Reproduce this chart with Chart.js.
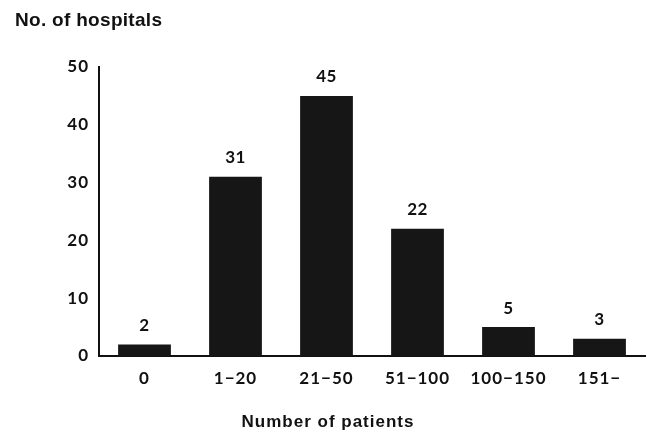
<!DOCTYPE html>
<html lang="en">
<head>
  <meta charset="UTF-8" />
  <title>No. of hospitals by number of patients</title>
  <style>
    * { box-sizing: border-box; margin: 0; padding: 0; }
    body { background: #ffffff; }
    .wrap { width: 652px; height: 434px; }
  </style>
</head>
<body>
  <div class="wrap">
    <canvas id="patientsChart" width="652" height="434"></canvas>
  </div>

  <script src="https://cdn.jsdelivr.net/npm/chart.js"></script>
  <script>
    const categories = ['0', '1\u221220', '21\u221250', '51\u2212100', '100\u2212150', '151\u2212'];
    const hospitals = [2, 31, 45, 22, 5, 3];
    const yTicks = [0, 10, 20, 30, 40, 50];

    const ink = '#111111';
    const numFont = { family: 'Lato, "Open Sans", sans-serif', size: 17, weight: 'bold' };

    // a little extra tracking on all canvas text
    const spacingPlugin = {
      id: 'spacing',
      beforeDraw(chart) { chart.ctx.letterSpacing = '1px'; }
    };

    // value labels over each bar + the two axis captions
    const labelsPlugin = {
      id: 'labels',
      afterDatasetsDraw(chart) {
        const ctx = chart.ctx;
        ctx.save();
        ctx.fillStyle = ink;
        ctx.textAlign = 'center';
        ctx.textBaseline = 'middle';
        ctx.font = 'bold 17px Lato, "Open Sans", sans-serif';
        ctx.letterSpacing = '0.5px';
        chart.getDatasetMeta(0).data.forEach((bar, i) => {
          ctx.fillText(String(hospitals[i]), bar.x, bar.y - 19);
        });

        ctx.font = 'bold 19px "Liberation Sans", Arial, sans-serif';
        ctx.letterSpacing = '0.3px';
        ctx.textAlign = 'left';
        ctx.fillText('No. of hospitals', 15, 21);
        ctx.font = 'bold 17px "Liberation Sans", Arial, sans-serif';
        ctx.letterSpacing = '1px';
        ctx.textAlign = 'center';
        ctx.fillText('Number of patients', 328, 422);
        ctx.restore();
      }
    };

    new Chart(document.getElementById('patientsChart'), {
      type: 'bar',
      data: {
        labels: categories,
        datasets: [{
          data: hospitals,
          backgroundColor: '#161616',
          borderWidth: 0,
          barPercentage: 0.58,
          categoryPercentage: 1
        }]
      },
      options: {
        responsive: false,
        animation: false,
        layout: { padding: { top: 67, right: 7, left: 0, bottom: 0 } },
        plugins: {
          legend: { display: false },
          tooltip: { enabled: false }
        },
        scales: {
          x: {
            grid: { display: false, drawTicks: false },
            border: { display: true, color: ink, width: 2 },
            ticks: { color: ink, font: numFont, padding: 12 },
            afterFit: s => { s.height = 78; }
          },
          y: {
            min: 0,
            max: 50,
            grid: { display: false, drawTicks: false },
            border: { display: true, color: ink, width: 2 },
            afterBuildTicks: s => { s.ticks = yTicks.map(v => ({ value: v })); },
            ticks: { color: ink, font: numFont, padding: 10 },
            afterFit: s => { s.width = 99; }
          }
        }
      },
      plugins: [spacingPlugin, labelsPlugin]
    });
  </script>
</body>
</html>
